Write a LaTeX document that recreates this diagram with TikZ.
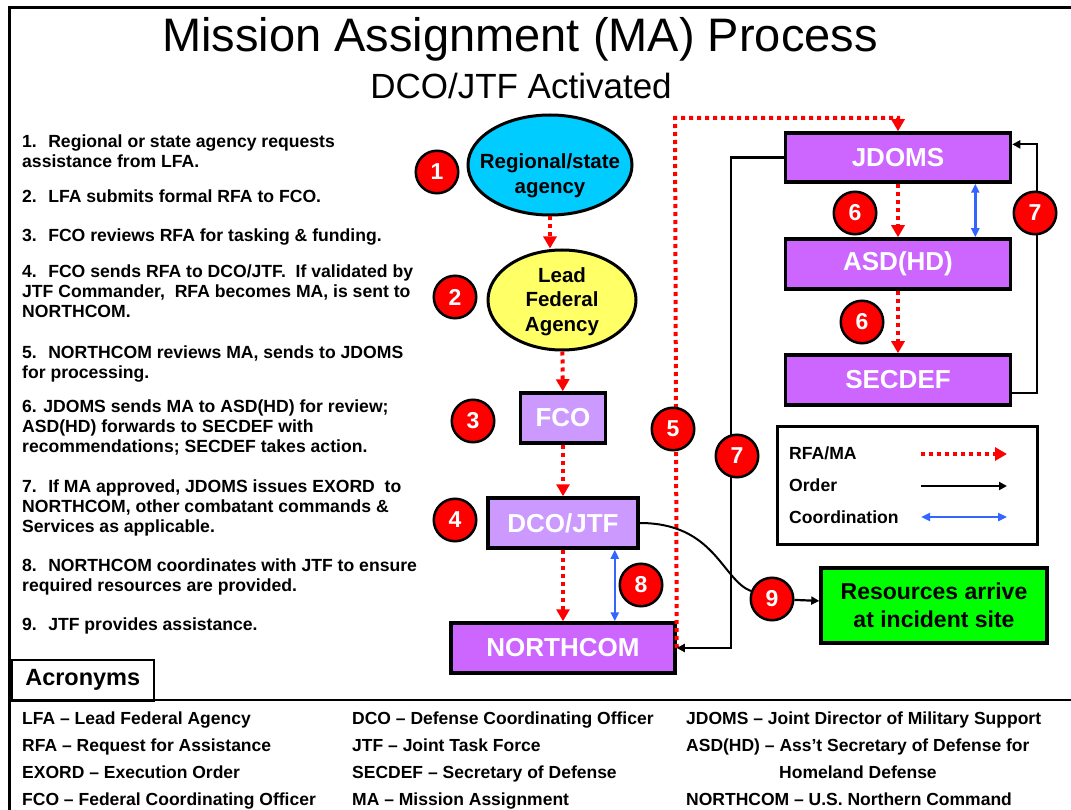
\documentclass[tikz,border=0pt]{standalone}
\usepackage{fontspec}
\setmainfont{Liberation Sans}
\usetikzlibrary{shapes.geometric,arrows.meta,calc}
\definecolor{cyanfill}{HTML}{00CCFF}
\definecolor{yellowfill}{HTML}{FFFF66}
\definecolor{lightpurple}{HTML}{CC99FF}
\definecolor{purplefill}{HTML}{CC66FF}
\definecolor{greenfill}{HTML}{00FF00}
\definecolor{badgered}{HTML}{FF0000}
\definecolor{coordblue}{HTML}{3366FF}
\tikzset{
  badge/.style={circle, draw=black, line width=2.5pt, fill=badgered, minimum size=42.5pt, inner sep=0pt, text=white, font=\fontsize{23}{23}\selectfont\bfseries},
  pbox/.style={rectangle, draw=black, line width=3.5pt, inner sep=0pt, text=white, font=\fontsize{26}{26}\selectfont\bfseries},
  agency/.style={ellipse, draw=black, line width=3pt, inner sep=0pt},
  agencytext/.style={align=center, anchor=base, inner sep=0pt, font=\fontsize{20.5}{25}\selectfont\bfseries},
  rfa/.style={draw=red, line width=4pt, dash pattern=on 4pt off 4pt, -{Triangle[length=12pt,width=13pt]}},
  order/.style={draw=black, line width=2.2pt, -{Triangle[length=8pt,width=8pt]}},
  coordarrow/.style={draw=coordblue, line width=2.5pt, {Triangle[length=9pt,width=8pt]}-{Triangle[length=9pt,width=8pt]}},
  steptext/.style={align=left, anchor=base west, inner sep=0pt, font=\fontsize{17.6}{20}\selectfont\bfseries},
  acrtext/.style={align=left, anchor=base west, inner sep=0pt, font=\fontsize{17.5}{27}\selectfont\bfseries},
}
\begin{document}
\begin{tikzpicture}[x=1pt,y=-1pt]
\useasboundingbox (0,0) rectangle (1071,810);
\fill[white] (0,0) rectangle (1071,810);

% frame
\draw[line width=3pt] (1071,8) -- (9,8) -- (9,810);

% titles
\node[font=\fontsize{47}{47}\selectfont, anchor=base, inner sep=0pt] (title) at (520,52) {Mission Assignment (MA) Process};
\node[font=\fontsize{35}{35}\selectfont, anchor=base, inner sep=0pt] (subtitle) at (521,99) {DCO/JTF Activated};

% steps (anchor = baseline of the last line)
\node[steptext] (s1) at (22,168) {1.~ Regional or state agency requests\\assistance from LFA.};
\node[steptext] (s2) at (22,203) {2.~ LFA submits formal RFA to FCO.};
\node[steptext] (s3) at (22,242) {3.~ FCO reviews RFA for tasking \& funding.};
\node[steptext] (s4) at (22,318) {4.~ FCO sends RFA to DCO/JTF.~ If validated by\\JTF Commander,~ RFA becomes MA, is sent to\\NORTHCOM.};
\node[steptext] (s5) at (22,378) {5.~ NORTHCOM reviews MA, sends to JDOMS\\for processing.};
\node[steptext] (s6) at (22,452) {6. JDOMS sends MA to ASD(HD) for review;\\ASD(HD) forwards to SECDEF with\\recommendations; SECDEF takes action.};
\node[steptext] (s7) at (22,532) {7.~ If MA approved, JDOMS issues EXORD~ to\\NORTHCOM, other combatant commands \&\\Services as applicable.};
\node[steptext] (s8) at (22,591) {8.~ NORTHCOM coordinates with JTF to ensure\\required resources are provided.};
\node[steptext] (s9) at (22,630) {9.~ JTF provides assistance.};

% agencies
\node[agency, fill=cyanfill, minimum width=164pt, minimum height=100pt] (e1) at (550,165) {};
\node[agencytext] (e1t) at (550,194) {Regional/state\\agency};
\node[agency, fill=yellowfill, minimum width=148pt, minimum height=100pt] (e2) at (562,300) {};
\node[agencytext] (e2t) at (562,332) {Lead\\Federal\\Agency};

% boxes
\node[pbox, fill=lightpurple, minimum width=85pt, minimum height=50pt] (fco) at (563,418) {FCO};
\node[pbox, fill=lightpurple, minimum width=150pt, minimum height=50pt] (dco) at (563,523) {DCO/JTF};
\node[pbox, fill=purplefill, minimum width=224pt, minimum height=50pt] (nc) at (563,648) {NORTHCOM};
\node[pbox, fill=purplefill, minimum width=225pt, minimum height=49pt] (jd) at (898,157.5) {JDOMS};
\node[pbox, fill=purplefill, minimum width=225pt, minimum height=50pt] (asd) at (898,264) {ASD(HD)};
\node[pbox, fill=purplefill, minimum width=225pt, minimum height=50pt] (sec) at (898,380) {SECDEF};
\node[rectangle, draw=black, line width=3.5pt, fill=greenfill, minimum width=226pt, minimum height=75pt, align=center, inner sep=0pt, font=\fontsize{23}{28}\selectfont\bfseries] (res) at (934,605.5) {Resources arrive\\at incident site};

% legend
\node[rectangle, draw=black, line width=3pt, minimum width=260pt, minimum height=118pt, inner sep=0pt] (legend) at (907,485) {};
\node[steptext] (lt1) at (789,459) {RFA/MA};
\node[steptext] (lt2) at (789,491) {Order};
\node[steptext] (lt3) at (789,523) {Coordination};
\coordinate (la1s) at (921,454); \coordinate (la1e) at (1007,454);
\coordinate (la2s) at (921,486); \coordinate (la2e) at (1007,486);
\coordinate (la3s) at (921,517); \coordinate (la3e) at (1007,517);
\draw[rfa] (la1s) -- (la1e);
\draw[order] (la2s) -- (la2e);
\draw[coordarrow] (la3s) -- (la3e);

% badge 9 (referenced by connectors)
\node[badge] (b9) at (772,599) {9};

% RFA/MA flow
\draw[rfa] (e1.south) -- (e1.south |- e2.north);
\draw[rfa] (e2) -- (fco);
\draw[rfa] (fco) -- (dco);
\draw[rfa] (dco) -- (nc);
\coordinate (c5) at (675,118);
\draw[rfa] (nc.east) -- (c5) -| (jd.north);
\draw[rfa] (jd) -- (asd);
\draw[rfa] (asd) -- (sec);

% coordination
\draw[coordarrow] ($(jd.south east)+(-37,0)$) -- ($(asd.north east)+(-37,0)$);
\coordinate (b8t) at ($(dco.south east)+(-25,0)$);
\draw[coordarrow] (b8t) -- (b8t |- nc.north);

% orders
\coordinate (secR) at ($(sec.east)!0.5!(sec.south east)$);
\coordinate (jdR) at ($(jd.east)!0.5!(jd.north east)$);
\draw[order] (secR) -| ($(jdR)+(25,0)$) -- (jdR);
\coordinate (c7) at (731,648);
\draw[order] (jd.west) -| (c7) -- (nc.east);
\draw[black, line width=2pt] (dco.east) .. controls (715,523) and (722,580) .. (b9);
\draw[order] (b9) -- (res);

% badges
\node[badge] (b1) at (437,172) {1};
\node[badge] (b2) at (455,297) {2};
\node[badge] (b3) at (473,421) {3};
\node[badge] (b4) at (455,520) {4};
\node[badge] (b5) at (673,429) {5};
\node[badge] (b6a) at (855,213) {6};
\node[badge] (b6b) at (862,322) {6};
\node[badge] (b7r) at (1035,213) {7};
\node[badge] (b7l) at (737,456) {7};
\node[badge] (b8) at (641,585) {8};

% acronyms
\draw[line width=2.5pt] (9,700) -- (1071,700);
\node[rectangle, draw=black, line width=1.5pt, minimum width=142pt, minimum height=41pt, anchor=north west, inner sep=0pt, font=\fontsize{23.5}{23.5}\selectfont\bfseries] (acrtab) at (11,659) {Acronyms};
\node[acrtext] (ac1) at (22,805) {LFA -- Lead Federal Agency\\RFA -- Request for Assistance\\EXORD -- Execution Order\\FCO -- Federal Coordinating Officer};
\node[acrtext] (ac2) at (352,805) {DCO -- Defense Coordinating Officer\\JTF -- Joint Task Force\\SECDEF -- Secretary of Defense\\MA -- Mission Assignment};
\node[acrtext] (ac3) at (686,805) {JDOMS -- Joint Director of Military Support\\ASD(HD) -- Ass’t Secretary of Defense for\\\hspace*{93pt}Homeland Defense\\NORTHCOM -- U.S. Northern Command};
\end{tikzpicture}
\end{document}
